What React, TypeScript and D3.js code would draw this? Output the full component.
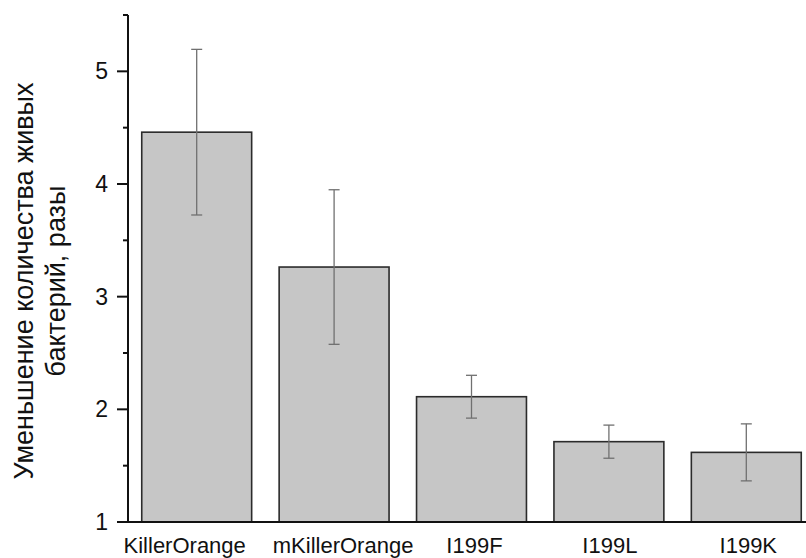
import React from "react";
import * as d3 from "d3";

// Fold reduction of live bacteria per protein variant
const categories = ["KillerOrange", "mKillerOrange", "I199F", "I199L", "I199K"];
const values = [4.46, 3.263, 2.112, 1.713, 1.618];
const errors = [0.735, 0.686, 0.19, 0.147, 0.253];
const majorTicks = [1, 2, 3, 4, 5];
const minorTicks = [1.5, 2.5, 3.5, 4.5, 5.5];
const yTitleLines = ["Уменьшение количества живых", "бактерий, разы"];

const W = 806;
const H = 558;
const FONT = "'Liberation Sans', Arial, sans-serif";

// small horizontal nudges for the category labels
const labelNudge = [-12, 9, 3, 1, 2];

export default function App() {
  const axisX = 128;
  const y = d3.scaleLinear().domain([1, 5.5]).range([522, 15]);
  const x = d3
    .scaleBand<string>()
    .domain(categories)
    .range([axisX, 815])
    .paddingInner(0.2)
    .paddingOuter(0.1);
  const bw = x.bandwidth();
  const capHalf = 5.5;

  return (
    <svg
      width={W}
      height={H}
      viewBox={`0 0 ${W} ${H}`}
      style={{ position: "absolute", left: 0, top: 0, background: "#fff" }}
      fontFamily={FONT}
    >
      {/* bars */}
      {categories.map((c, i) => (
        <rect
          key={c}
          x={x(c)!}
          y={y(values[i])}
          width={bw}
          height={y(1) - y(values[i])}
          fill="#c6c6c6"
          stroke="#2b2b2b"
          strokeWidth={1.6}
        />
      ))}
      {/* error bars */}
      {categories.map((c, i) => {
        const cx = x(c)! + bw / 2;
        const hi = y(values[i] + errors[i]);
        const lo = y(values[i] - errors[i]);
        return (
          <g key={c} stroke="#707070" strokeWidth={1.3}>
            <line x1={cx} x2={cx} y1={hi} y2={lo} />
            <line x1={cx - capHalf} x2={cx + capHalf} y1={hi} y2={hi} />
            <line x1={cx - capHalf} x2={cx + capHalf} y1={lo} y2={lo} />
          </g>
        );
      })}
      {/* axes */}
      <line x1={axisX} x2={axisX} y1={y(5.5)} y2={y(1)} stroke="#111" strokeWidth={2} />
      <line x1={117} x2={W} y1={y(1)} y2={y(1)} stroke="#111" strokeWidth={2} />
      {majorTicks.map((t) => (
        <g key={t}>
          <line x1={axisX - 11} x2={axisX} y1={y(t)} y2={y(t)} stroke="#111" strokeWidth={2} />
          <text
            x={108}
            y={y(t)}
            dy="0.35em"
            textAnchor="end"
            fontSize={23}
            fill="#111"
          >
            {t}
          </text>
        </g>
      ))}
      {minorTicks.map((t) => (
        <line key={t} x1={axisX - 5} x2={axisX} y1={y(t)} y2={y(t)} stroke="#111" strokeWidth={2} />
      ))}
      {/* category labels */}
      {categories.map((c, i) => (
        <text
          key={c}
          x={x(c)! + bw / 2 + labelNudge[i]}
          y={553}
          textAnchor="middle"
          fontSize={22}
          fill="#111"
        >
          {c}
        </text>
      ))}
      {/* y axis title */}
      {yTitleLines.map((line, i) => (
        <text
          key={i}
          transform={`translate(${33 + i * 32},281) rotate(-90)`}
          textAnchor="middle"
          fontSize={27}
          fill="#111"
        >
          {line}
        </text>
      ))}
    </svg>
  );
}
